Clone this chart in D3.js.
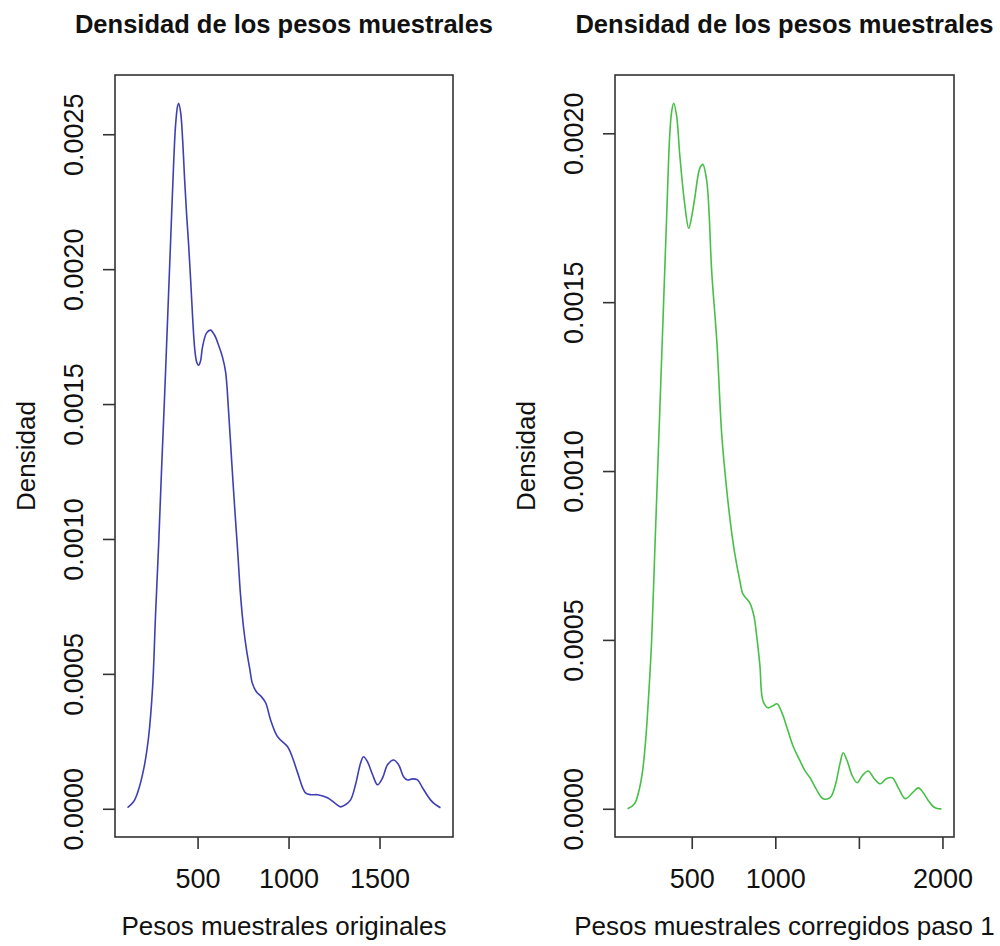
<!DOCTYPE html>
<html>
<head>
<meta charset="utf-8">
<script src="https://cdn.jsdelivr.net/npm/d3@7"></script>
<style>
  html, body { margin: 0; padding: 0; background: #fff; }
  svg { display: block; }
  text { font-family: "Liberation Sans", Arial, Helvetica, sans-serif; fill: #111; }
</style>
</head>
<body>
<svg id="chart" width="1000" height="946"></svg>
<script>
// Kernel density estimate of the original sample weights
const pesosOriginales = [115, 148, 170, 203, 231, 253, 269, 286, 302, 319, 335, 352, 368, 379, 390, 396, 407, 418, 429, 440, 451, 462, 473, 484, 495, 505, 516, 527, 549, 571, 593, 615, 637, 654, 670, 687, 703, 720, 736, 753, 769, 786, 802, 824, 846, 874, 901, 940, 995, 1022, 1050, 1093, 1126, 1159, 1214, 1258, 1286, 1313, 1341, 1368, 1396, 1412, 1434, 1462, 1489, 1517, 1544, 1577, 1605, 1632, 1654, 1681, 1709, 1736, 1780, 1808, 1835];
const densidadOriginales = [0.000004, 0.000026, 0.000059, 0.000144, 0.000267, 0.000452, 0.000719, 0.000978, 0.001256, 0.001533, 0.001811, 0.002107, 0.002385, 0.002533, 0.002604, 0.002615, 0.002581, 0.002478, 0.002330, 0.002200, 0.002089, 0.001959, 0.001819, 0.001707, 0.001656, 0.001644, 0.001659, 0.001711, 0.001763, 0.001774, 0.001756, 0.001719, 0.001674, 0.001619, 0.001478, 0.001293, 0.001126, 0.000959, 0.000793, 0.000670, 0.000589, 0.000522, 0.000463, 0.000433, 0.000419, 0.000393, 0.000330, 0.000267, 0.000230, 0.000189, 0.000133, 0.000059, 0.000052, 0.000052, 0.000041, 0.000019, 0.000007, 0.000015, 0.000033, 0.000089, 0.000170, 0.000193, 0.000174, 0.000126, 0.000089, 0.000115, 0.000163, 0.000181, 0.000163, 0.000119, 0.000107, 0.000111, 0.000107, 0.000078, 0.000033, 0.000015, 0.000004];

// Kernel density estimate of the weights corrected in step 1
const pesosCorregidos = [116, 158, 188, 206, 224, 242, 260, 278, 296, 314, 332, 350, 368, 380, 392, 410, 428, 458, 482, 500, 518, 548, 566, 590, 620, 650, 680, 710, 734, 758, 788, 806, 830, 848, 872, 890, 908, 926, 956, 986, 1010, 1040, 1070, 1106, 1148, 1178, 1208, 1244, 1286, 1328, 1358, 1388, 1406, 1430, 1460, 1490, 1520, 1556, 1592, 1628, 1664, 1700, 1736, 1778, 1820, 1856, 1886, 1916, 1946, 1976, 1994];
const densidadCorregidos = [0.000000, 0.000015, 0.000062, 0.000112, 0.000201, 0.000334, 0.000497, 0.000749, 0.001000, 0.001251, 0.001503, 0.001754, 0.001991, 0.002065, 0.002089, 0.002050, 0.001938, 0.001790, 0.001719, 0.001754, 0.001808, 0.001896, 0.001908, 0.001858, 0.001586, 0.001385, 0.001104, 0.000941, 0.000837, 0.000754, 0.000675, 0.000636, 0.000621, 0.000609, 0.000571, 0.000506, 0.000423, 0.000320, 0.000299, 0.000305, 0.000311, 0.000284, 0.000240, 0.000186, 0.000142, 0.000112, 0.000092, 0.000059, 0.000030, 0.000033, 0.000068, 0.000136, 0.000166, 0.000142, 0.000098, 0.000077, 0.000098, 0.000112, 0.000089, 0.000074, 0.000089, 0.000092, 0.000062, 0.000030, 0.000047, 0.000062, 0.000047, 0.000024, 0.000006, 0.000000, 0.000000];

// Axis ticks and labels
const xTicks1 = [500, 1000, 1500];
const xTickLabels1 = ["500", "1000", "1500"];
const yTicks1 = [0, 0.0005, 0.0010, 0.0015, 0.0020, 0.0025];
const yTickLabels1 = ["0.0000", "0.0005", "0.0010", "0.0015", "0.0020", "0.0025"];

const xTicks2 = [500, 1000, 1500, 2000];
const xTickLabels2 = ["500", "1000", "", "2000"];
const yTicks2 = [0, 0.0005, 0.0010, 0.0015, 0.0020];
const yTickLabels2 = ["0.0000", "0.0005", "0.0010", "0.0015", "0.0020"];

const titulo = "Densidad de los pesos muestrales";
const yTitulo = "Densidad";
const xTitulo1 = "Pesos muestrales originales";
const xTitulo2 = "Pesos muestrales corregidos paso 1";

const svg = d3.select("#chart");

function panel(opts) {
  const { left, right, top, bottom, xs, ys, color, xTicks, xLabels, yTicks, yLabels, xTitle } = opts;

  // R-style 4% padding around the data range
  const [xmin, xmax] = d3.extent(xs);
  const xr = xmax - xmin;
  const ymax = d3.max(ys);
  const x = d3.scaleLinear().domain([xmin - 0.04 * xr, xmax + 0.04 * xr]).range([left, right]);
  const y = d3.scaleLinear().domain([-0.04 * ymax, 1.04 * ymax]).range([bottom, top]);

  const g = svg.append("g");

  // density curve
  const pts = xs.map((v, i) => [v, ys[i]]);
  g.append("path")
    .datum(pts)
    .attr("fill", "none")
    .attr("stroke", color)
    .attr("stroke-width", 1.6)
    .attr("stroke-linejoin", "round")
    .attr("d", d3.line().x(d => x(d[0])).y(d => y(d[1])).curve(d3.curveCatmullRom.alpha(0.5)));

  // frame
  g.append("rect")
    .attr("x", left).attr("y", top)
    .attr("width", right - left).attr("height", bottom - top)
    .attr("fill", "none").attr("stroke", "#333").attr("stroke-width", 1.6);

  // bottom axis
  const ax = g.append("g")
    .attr("transform", `translate(0,${bottom})`)
    .call(d3.axisBottom(x).tickValues(xTicks).tickSize(12).tickPadding(0)
      .tickFormat((d, i) => xLabels[i]));
  ax.select(".domain").remove();
  ax.selectAll(".tick line").attr("stroke", "#333").attr("stroke-width", 1.6);
  ax.selectAll(".tick text")
    .attr("y", 51).attr("dy", null)
    .style("font-size", "27px").attr("fill", "#111");

  // left axis, labels parallel to the axis
  const ay = g.append("g")
    .attr("transform", `translate(${left},0)`)
    .call(d3.axisLeft(y).tickValues(yTicks).tickSize(12).tickPadding(0)
      .tickFormat((d, i) => yLabels[i]));
  ay.select(".domain").remove();
  ay.selectAll(".tick line").attr("stroke", "#333").attr("stroke-width", 1.6);
  ay.selectAll(".tick text")
    .attr("transform", "rotate(-90)")
    .attr("x", 0).attr("y", -32).attr("dy", null)
    .attr("text-anchor", "middle")
    .style("font-size", "27px").attr("fill", "#111");

  const cx = (left + right) / 2;
  const cy = (top + bottom) / 2;

  g.append("text")
    .attr("x", cx).attr("y", 33)
    .attr("text-anchor", "middle")
    .style("font-size", "25.5px").style("font-weight", "bold")
    .text(titulo);

  g.append("text")
    .attr("x", cx).attr("y", 935)
    .attr("text-anchor", "middle")
    .style("font-size", "26px")
    .text(xTitle);

  g.append("text")
    .attr("transform", `translate(${left - 80},${cy}) rotate(-90)`)
    .attr("text-anchor", "middle")
    .style("font-size", "26px")
    .text(yTitulo);
}

panel({
  left: 115, right: 453, top: 75, bottom: 837,
  xs: pesosOriginales, ys: densidadOriginales, color: "#3f3fb5",
  xTicks: xTicks1, xLabels: xTickLabels1, yTicks: yTicks1, yLabels: yTickLabels1,
  xTitle: xTitulo1
});

panel({
  left: 615, right: 954, top: 75, bottom: 837,
  xs: pesosCorregidos, ys: densidadCorregidos, color: "#46c046",
  xTicks: xTicks2, xLabels: xTickLabels2, yTicks: yTicks2, yLabels: yTickLabels2,
  xTitle: xTitulo2
});
</script>
</body>
</html>
